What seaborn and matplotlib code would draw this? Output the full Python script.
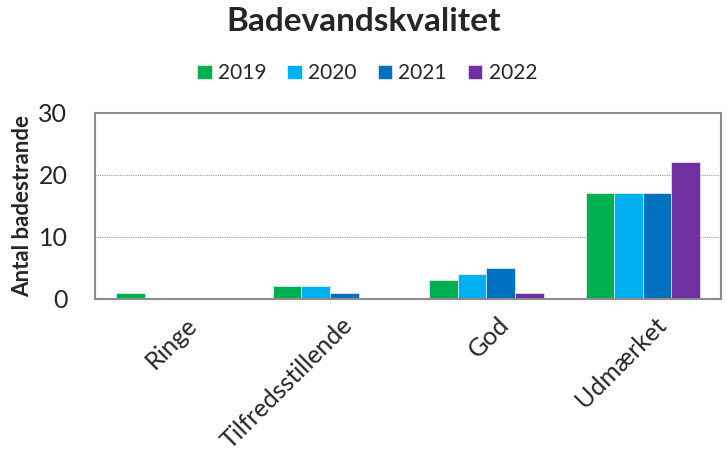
import matplotlib
matplotlib.use("Agg")
import matplotlib.pyplot as plt
import matplotlib.transforms as mtransforms
import pandas as pd
import seaborn as sns

kategorier = ["Ringe", "Tilfredsstillende", "God", "Udmærket"]
aar = ["2019", "2020", "2021", "2022"]
v2019 = [1, 2, 3, 17]
v2020 = [0, 2, 4, 17]
v2021 = [0, 1, 5, 17]
v2022 = [0, 0, 1, 22]
farver = ["#00B050", "#00B0F0", "#0070C0", "#7030A0"]

rows = []
for a, vals in zip(aar, [v2019, v2020, v2021, v2022]):
    for k, v in zip(kategorier, vals):
        rows.append({"kategori": k, "aar": a, "antal": v})
df = pd.DataFrame(rows)

sns.set_style("white")
plt.rcParams["font.family"] = ["Lato", "DejaVu Sans"]

fig = plt.figure(figsize=(7.27, 4.59), dpi=100)
ax = fig.add_axes([0.131, 0.349, 0.861, 0.405])

sns.barplot(data=df, x="kategori", y="antal", hue="aar", order=kategorier,
            hue_order=aar, palette=farver, width=0.73, saturation=1,
            edgecolor="white", linewidth=0.4, ax=ax)

ax.set_ylim(0, 30)
ax.set_xlim(-0.5, 3.5)
ax.set_yticks([0, 10, 20, 30])
ax.tick_params(axis="y", length=0, pad=20, labelsize=18)
ax.tick_params(axis="x", length=0, pad=10, labelsize=18)
# shift the rotated category labels a little to the right, like the original
shift = mtransforms.ScaledTranslation(8 / 72, 0, fig.dpi_scale_trans)
for lab in ax.get_xticklabels():
    lab.set_rotation(45)
    lab.set_ha("right")
    lab.set_rotation_mode("anchor")
    lab.set_transform(lab.get_transform() + shift)

for y in [10, 20]:
    ax.axhline(y, color="#9a9a9a", linestyle=(0, (1, 1)), linewidth=0.8, zorder=0)
for s in ax.spines.values():
    s.set_visible(True)
    s.set_color("#8c8c8c")
    s.set_linewidth(1.5)

ax.set_xlabel("")
ax.set_ylabel("Antal badestrande", fontsize=16, fontweight="bold", labelpad=4)

ax.legend(loc="center", ncol=4, frameon=False, fontsize=15, handlelength=0.7,
          handleheight=0.7, handletextpad=0.3, columnspacing=1.0)
ax.get_legend().set_bbox_to_anchor((0.505, 0.84), transform=fig.transFigure)

fig.suptitle("Badevandskvalitet", fontsize=24, fontweight="bold", y=0.985)

fig.savefig("out.png", dpi=100)
